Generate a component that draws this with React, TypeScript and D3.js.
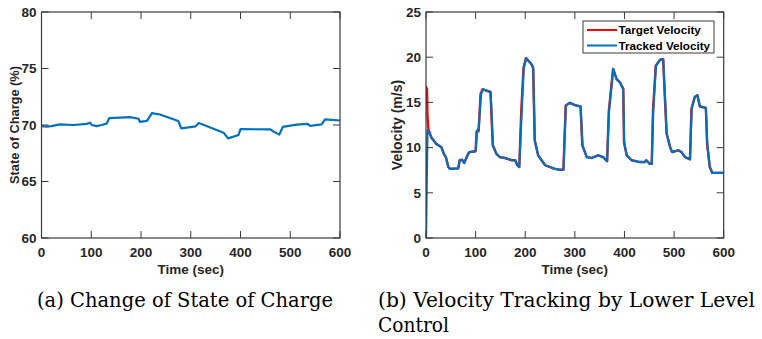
import React from 'react';
import * as d3 from 'd3';

// ---------- data ----------
const timeTicks = [0, 100, 200, 300, 400, 500, 600];
const socTicks = [60, 65, 70, 75, 80];
const velocityTicks = [0, 5, 10, 15, 20, 25];

const socTime = [0, 10, 20, 37, 64, 91, 98, 101, 111, 121, 131, 136, 158, 178, 195, 198, 212, 222, 238, 275, 281, 310, 316, 324, 366, 375, 396, 400, 460, 467, 478, 485, 513, 535, 540, 563, 570, 600];
const socValue = [69.9, 69.85, 69.9, 70.05, 70.0, 70.1, 70.2, 70.0, 69.9, 70.0, 70.12, 70.6, 70.65, 70.7, 70.55, 70.27, 70.36, 71.05, 70.93, 70.35, 69.7, 69.88, 70.17, 70.05, 69.32, 68.82, 69.12, 69.63, 69.62, 69.4, 69.15, 69.83, 70.03, 70.1, 69.92, 70.05, 70.5, 70.4];

const trackedTime = [0, 3, 5, 11, 21, 31, 36, 40, 45, 48, 65, 68, 73, 77, 82, 87, 100, 103, 106, 111, 115, 130, 132, 135, 142, 149, 159, 173, 180, 184, 188, 193, 197, 202, 213, 216, 219.5, 226, 233, 240, 250, 260, 270, 277, 282, 290, 300, 311.5, 315.5, 324, 334, 347, 357, 365, 369, 377.5, 384, 391, 397.5, 399.5, 404.5, 414.5, 431, 441, 444, 451, 455, 458, 463.5, 471.5, 478, 481.5, 485, 492, 496, 508.5, 515, 522, 532, 535.5, 542, 547, 552, 564, 567, 572, 577, 600];
const trackedSpeed = [0, 11.9, 11.8, 11.1, 10.4, 10.05, 9.3, 8.95, 7.85, 7.65, 7.7, 8.6, 8.65, 8.3, 8.95, 9.5, 9.6, 11.9, 12.0, 15.95, 16.45, 16.15, 14.1, 10.25, 9.3, 8.95, 8.85, 8.6, 8.6, 8.05, 7.85, 14.1, 18.8, 19.9, 19.2, 18.8, 10.8, 9.15, 8.6, 8.05, 7.85, 7.65, 7.55, 7.55, 14.65, 14.95, 14.7, 14.55, 10.25, 8.95, 8.85, 9.15, 8.95, 8.5, 14.1, 18.7, 17.6, 17.2, 16.5, 10.6, 9.15, 8.6, 8.4, 8.4, 8.6, 8.2, 8.2, 14.1, 19.05, 19.7, 19.8, 15.95, 11.55, 10.05, 9.5, 9.7, 9.5, 8.95, 8.7, 14.3, 15.6, 15.8, 14.55, 14.4, 10.4, 7.85, 7.2, 7.2];

const targetTime = [0, 2, 3, 5, 11, 21, 31, 36, 40, 45, 48, 65, 68, 73, 77, 82, 87, 100, 102, 106, 110, 114, 130, 131.5, 134.5, 142, 149, 159, 173, 180, 184, 188, 192, 196.5, 201.5, 213, 216, 219, 226, 233, 240, 250, 260, 270, 277, 281.5, 290, 300, 311.5, 315, 324, 334, 347, 357, 365, 368.5, 377, 384, 391, 397.5, 399, 404.5, 414.5, 431, 441, 444, 451, 455, 457.5, 463, 471.5, 478, 481, 485, 492, 496, 508.5, 515, 522, 532, 535, 541.5, 547, 552, 564, 566.5, 572, 577, 600];
const targetSpeed = [16.7, 16.5, 13.5, 12.0, 11.1, 10.4, 10.05, 9.3, 8.95, 7.85, 7.65, 7.7, 8.6, 8.65, 8.3, 8.95, 9.5, 9.6, 11.8, 11.8, 15.95, 16.45, 16.15, 14.1, 10.25, 9.3, 8.95, 8.85, 8.6, 8.6, 8.05, 7.85, 14.1, 18.8, 19.9, 19.2, 18.8, 10.8, 9.15, 8.6, 8.05, 7.85, 7.65, 7.55, 7.55, 14.65, 14.95, 14.7, 14.55, 10.25, 8.95, 8.85, 9.15, 8.95, 8.5, 14.1, 18.7, 17.6, 17.2, 16.5, 10.6, 9.15, 8.6, 8.4, 8.4, 8.6, 8.2, 8.2, 14.1, 19.05, 19.7, 19.8, 15.95, 11.55, 10.05, 9.5, 9.7, 9.5, 8.95, 8.7, 14.3, 15.6, 15.8, 14.55, 14.4, 10.4, 7.85, 7.2, 7.2];

const legendLabels = ['Target Velocity', 'Tracked Velocity'];

// ---------- styling ----------
const W = 762;
const H = 339;
const SANS = '"Liberation Sans", Arial, Helvetica, sans-serif';
const SERIF = "'DejaVu Serif', serif";
const AXIS = '#3a3a3a';
const TEXT = '#262626';
const BLUE = '#0072BD';
const RED = '#FF0000';
const TOP = 12;
const BOTTOM = 238;
const TICK = 7;
const TICK_FONT = 13.5;

type Series = { t: number[]; v: number[]; color: string; width: number };

function Panel(props: {
  id: string;
  x0: number;
  x1: number;
  yDomain: [number, number];
  yTicks: number[];
  yLabel: string;
  yLabelX: number;
  yLabelSize: number;
  series: Series[];
}) {
  const { id, x0, x1, yDomain, yTicks, yLabel, yLabelX, yLabelSize, series } = props;
  const x = d3.scaleLinear().domain([0, 600]).range([x0, x1]);
  const y = d3.scaleLinear().domain(yDomain).range([BOTTOM, TOP]);
  const mk = (s: Series) =>
    d3
      .line<number>()
      .x((_, i) => x(s.t[i]))
      .y((d) => y(d))(s.v) || '';
  return (
    <g>
      <defs>
        <clipPath id={id}>
          <rect x={x0} y={TOP} width={x1 - x0} height={BOTTOM - TOP} />
        </clipPath>
      </defs>
      <rect x={x0} y={TOP} width={x1 - x0} height={BOTTOM - TOP} fill="#fff" />
      <g clipPath={`url(#${id})`}>
        {series.map((s, i) => (
          <path key={i} d={mk(s)} fill="none" stroke={s.color} strokeWidth={s.width} strokeLinejoin="round" strokeLinecap="round" />
        ))}
      </g>
      {timeTicks.map((t) => (
        <g key={'xt' + t}>
          <line x1={x(t)} x2={x(t)} y1={BOTTOM} y2={BOTTOM - TICK} stroke={AXIS} strokeWidth={1} />
          <line x1={x(t)} x2={x(t)} y1={TOP} y2={TOP + TICK} stroke={AXIS} strokeWidth={1} />
          <text x={x(t)} y={257} textAnchor="middle" fontFamily={SANS} fontWeight="bold" fontSize={TICK_FONT} fill={TEXT}>
            {t}
          </text>
        </g>
      ))}
      {yTicks.map((v) => (
        <g key={'yt' + v}>
          <line x1={x0} x2={x0 + TICK} y1={y(v)} y2={y(v)} stroke={AXIS} strokeWidth={1} />
          <line x1={x1} x2={x1 - TICK} y1={y(v)} y2={y(v)} stroke={AXIS} strokeWidth={1} />
          <text x={x0 - 5} y={y(v)} dy="0.36em" textAnchor="end" fontFamily={SANS} fontWeight="bold" fontSize={TICK_FONT} fill={TEXT}>
            {v}
          </text>
        </g>
      ))}
      <rect x={x0} y={TOP} width={x1 - x0} height={BOTTOM - TOP} fill="none" stroke={AXIS} strokeWidth={1.2} />
      <text x={(x0 + x1) / 2} y={274} textAnchor="middle" fontFamily={SANS} fontWeight="bold" fontSize={13.5} fill={TEXT}>
        Time (sec)
      </text>
      <text
        transform={`translate(${yLabelX},${(TOP + BOTTOM) / 2}) rotate(-90)`}
        textAnchor="middle"
        fontFamily={SANS}
        fontWeight="bold"
        fontSize={yLabelSize}
        fill={TEXT}
      >
        {yLabel}
      </text>
    </g>
  );
}

export default function App() {
  const legendColors = [RED, BLUE];
  return (
    <svg width={W} height={H} viewBox={`0 0 ${W} ${H}`} style={{ position: 'absolute', left: 0, top: 0, background: '#fff' }}>
      <rect width={W} height={H} fill="#fff" />
      <Panel
        id="clipA"
        x0={41.5}
        x1={340}
        yDomain={[60, 80]}
        yTicks={socTicks}
        yLabel="State of Charge (%)"
        yLabelX={18.5}
        yLabelSize={12.8}
        series={[{ t: socTime, v: socValue, color: BLUE, width: 2.2 }]}
      />
      <Panel
        id="clipB"
        x0={426}
        x1={723.7}
        yDomain={[0, 25]}
        yTicks={velocityTicks}
        yLabel="Velocity (m/s)"
        yLabelX={402}
        yLabelSize={14}
        series={[
          { t: targetTime, v: targetSpeed, color: RED, width: 2.4 },
          { t: trackedTime, v: trackedSpeed, color: BLUE, width: 2.2 },
        ]}
      />
      <g>
        <rect x={583} y={21} width={131} height={32} fill="#fff" stroke={AXIS} strokeWidth={1} />
        {legendLabels.map((lab, i) => (
          <g key={lab}>
            <line x1={587} x2={617} y1={30 + i * 15.5} y2={30 + i * 15.5} stroke={legendColors[i]} strokeWidth={2} />
            <text x={618.5} y={30 + i * 15.5} dy="0.36em" fontFamily={SANS} fontWeight="bold" fontSize={11.7} fill="#000">
              {lab}
            </text>
          </g>
        ))}
      </g>
      <text x={37} y={307} fontFamily={SERIF} fontSize={20} fill="#000" textLength={296} lengthAdjust="spacingAndGlyphs">
        (a) Change of State of Charge
      </text>
      <text x={378} y={307} fontFamily={SERIF} fontSize={20} fill="#000" textLength={377} lengthAdjust="spacingAndGlyphs">
        (b) Velocity Tracking by Lower Level
      </text>
      <text x={378} y={332} fontFamily={SERIF} fontSize={20} fill="#000" textLength={71} lengthAdjust="spacingAndGlyphs">
        Control
      </text>
    </svg>
  );
}
